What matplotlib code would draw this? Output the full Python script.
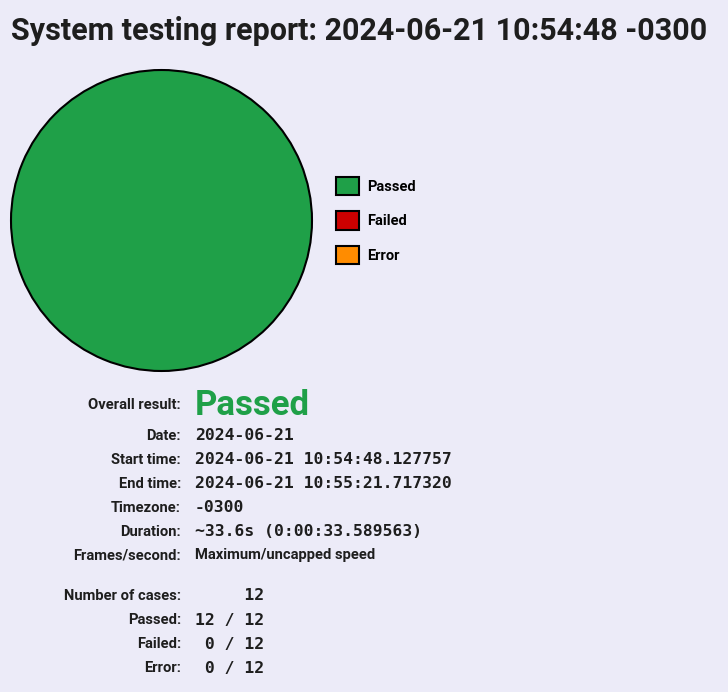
import matplotlib
matplotlib.use("Agg")
import matplotlib.pyplot as plt
from matplotlib.patches import Patch

# results
categories = ["Passed", "Failed", "Error"]
counts = [12, 0, 0]
colors = ["#1fa048", "#cc0000", "#ff8c00"]

title = "System testing report: 2024-06-21 10:54:48 -0300"
overall = "Passed"
info_labels = ["Date:", "Start time:", "End time:", "Timezone:", "Duration:"]
info_values = ["2024-06-21", "2024-06-21 10:54:48.127757",
               "2024-06-21 10:55:21.717320", "-0300",
               "~33.6s (0:00:33.589563)"]
fps_label = "Frames/second:"
fps_value = "Maximum/uncapped speed"

bg = "#ecebf8"
W, H = 728, 692
sans = ["Roboto", "DejaVu Sans"]
mono = ["DejaVu Sans Mono"]

fig = plt.figure(figsize=(W/100, H/100), dpi=100, facecolor=bg)

def px(x, y):
    return x/W, 1 - y/H

fig.text(*px(11, 31), title, fontsize=22, fontweight="bold", family=sans,
         color="#1e1e1e", va="center", ha="left")

# pie
ax = fig.add_axes([11/W, 1 - 371/H, 301/W, 301/H])
ax.set_facecolor(bg)
wedges, _ = ax.pie(counts, colors=colors, startangle=90, counterclock=False,
                   wedgeprops=dict(edgecolor="black", linewidth=1.5))
for w, c in zip(wedges, counts):
    w.set_clip_on(False)
    if c == 0:
        w.set_linewidth(0)
ax.set_xlim(-1, 1)
ax.set_ylim(-1, 1)
ax.set_aspect("equal")

handles = [Patch(facecolor=c, edgecolor="black", linewidth=1.5) for c in colors]
leg = fig.legend(handles, categories, loc="upper left", bbox_to_anchor=px(323, 164),
                 frameon=False, handlelength=1.55, handleheight=1.55,
                 labelspacing=1.1, handletextpad=0.6,
                 prop=dict(family=sans, size=10.5, weight=600))

# info table
lx, vx = 181, 195
lab_kw = dict(ha="right", va="center", fontsize=10.6, family=sans,
              fontweight=600, color="#1e1e1e")
val_kw = dict(ha="left", va="center", fontsize=11.8, family=mono,
              fontweight="bold", color="#1e1e1e")

fig.text(*px(lx, 405), "Overall result:", **lab_kw)
fig.text(*px(vx, 405), overall, ha="left", va="center", fontsize=25,
         family=sans, fontweight="bold", color=colors[0])

y = 436
for lab, val in zip(info_labels, info_values):
    fig.text(*px(lx, y), lab, **lab_kw)
    fig.text(*px(vx, y), val, **val_kw)
    y += 24
fig.text(*px(lx, 555), fps_label, **lab_kw)
fig.text(*px(vx, 555), fps_value, ha="left", va="center", fontsize=10.6,
         family=sans, fontweight=600, color="#1e1e1e")

total = sum(counts)
rows = [("Number of cases:", "%7d" % total)]
for cat, n in zip(categories, counts):
    rows.append((cat + ":", "%2d / %d" % (n, total)))
y = 596
for lab, val in rows:
    fig.text(*px(lx, y), lab, **lab_kw)
    fig.text(*px(vx, y), val, **val_kw)
    y += 24

fig.savefig("out.png", dpi=100, facecolor=bg)
